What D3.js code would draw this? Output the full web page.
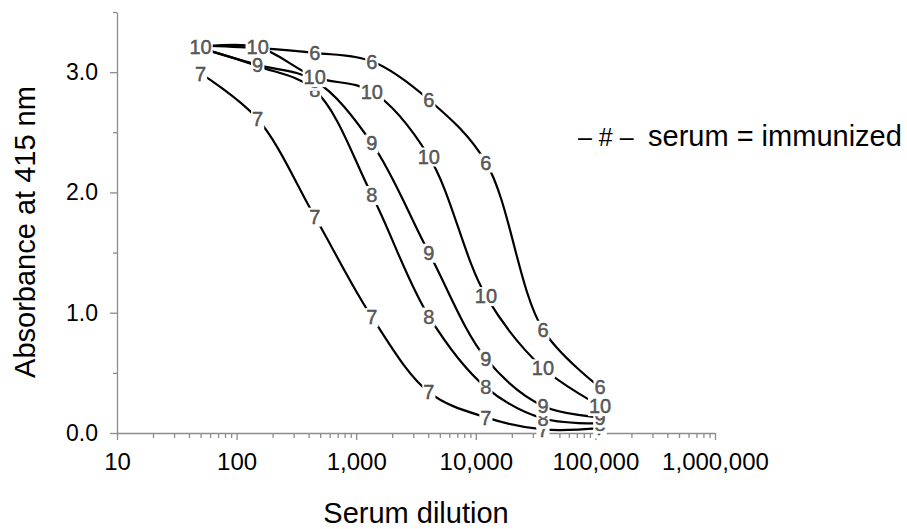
<!DOCTYPE html>
<html>
<head>
<meta charset="utf-8">
<script src="https://cdn.jsdelivr.net/npm/d3@7"></script>
<style>
	body { margin: 0; background: #fff; }
	text { font-family: "Liberation Sans", Arial, sans-serif; }
</style>
</head>
<body>
<div id="chart"></div>
<script>
// 3-fold serum dilutions
const dilutions = [50, 150, 450, 1350, 4050, 12150, 36450, 109350];

// absorbance at 415 nm, one array per serum (label = curve number)
const serum6 = [3.22, 3.2, 3.16, 3.09, 2.77, 2.25, 0.86, 0.38];
const serum7 = [2.99, 2.61, 1.8, 0.965, 0.34, 0.13, 0.03, 0.04];
const serum8 = [3.2, 3.05, 2.85, 1.98, 0.97, 0.38, 0.12, 0.08];
const serum9 = [3.2, 3.06, 2.93, 2.41, 1.5, 0.62, 0.225, 0.13];
const serum10 = [3.21, 3.21, 2.96, 2.84, 2.3, 1.14, 0.54, 0.225];

const seriesNames = ["6", "7", "8", "9", "10"];
const seriesValues = [serum6, serum7, serum8, serum9, serum10];

const yTicks = [0, 0.5, 1, 1.5, 2, 2.5, 3, 3.5];
const xDecades = [10, 100, 1000, 10000, 100000, 1000000];

const legendMark = "\u2013 # \u2013";
const legendText = "serum = immunized";
const xTitle = "Serum dilution";
const yTitle = "Absorbance at 415 nm";

const width = 907;
const height = 529;

const svg = d3
	.select("#chart")
	.append("svg")
	.attr("width", width)
	.attr("height", height);

const x = d3.scaleLog().domain([10, 1000000]).range([117, 715]);
const y = d3.scaleLinear().domain([0, 3.5]).range([433, 12]);

// x axis: minor ticks 2..9 in each decade
const xMinor = [];
xDecades.slice(0, -1).forEach((d) => {
	for (let k = 2; k <= 9; k++) xMinor.push(d * k);
});

const xAxis = svg
	.append("g")
	.attr("transform", `translate(0, ${y(0)})`)
	.call(
		d3
			.axisBottom(x)
			.tickValues(xDecades.concat(xMinor))
			.tickSize(5)
			.tickSizeOuter(0)
			.tickPadding(15)
			.tickFormat((d) => (xDecades.includes(d) ? d3.format(",")(d) : ""))
	);

xAxis.attr("font-family", null);
xAxis.select(".domain").attr("stroke", "#8c8c8c").attr("stroke-width", 1.3);
xAxis.selectAll(".tick line").attr("stroke", "#8c8c8c").attr("stroke-width", 1.3)
	.attr("y2", (d) => (xDecades.includes(d) ? 7 : 5));
xAxis.selectAll(".tick text").attr("font-size", 24).attr("fill", "#000");

const yAxis = svg
	.append("g")
	.attr("transform", `translate(${x(10)}, 0)`)
	.call(
		d3
			.axisLeft(y)
			.tickValues(yTicks)
			.tickSize(7)
			.tickSizeOuter(0)
			.tickPadding(12)
			.tickFormat((d) => (d % 1 === 0 ? d3.format(".1f")(d) : ""))
	);

yAxis.attr("font-family", null);
yAxis.select(".domain").attr("stroke", "#8c8c8c").attr("stroke-width", 1.3);
yAxis.selectAll(".tick line").attr("stroke", "#8c8c8c").attr("stroke-width", 1.3)
	.attr("x2", (d) => (d % 1 === 0 ? -7 : -4));
yAxis.selectAll(".tick text").attr("font-size", 23).attr("fill", "#000");

// smoothed curves, like the spreadsheet "smoothed line" option
const line = d3
	.line()
	.x((d) => x(d[0]))
	.y((d) => y(d[1]))
	.curve(d3.curveCatmullRom.alpha(0.5));

const series = seriesNames.map((name, i) => ({
	name: name,
	points: dilutions.map((dil, j) => [dil, seriesValues[i][j]]),
}));

svg.append("g")
	.selectAll("path")
	.data(series)
	.enter()
	.append("path")
	.attr("d", (d) => line(d.points))
	.attr("fill", "none")
	.attr("stroke", "#000")
	.attr("stroke-width", 2.2);

// number markers on the curves: each one gets a white box (cuts the
// lines and hides earlier markers below it), drawn series by series
const labelData = series.flatMap((s) => s.points.map((p) => ({ name: s.name, p: p })));

const marker = svg
	.append("g")
	.selectAll("g")
	.data(labelData)
	.enter()
	.append("g")
	.attr("transform", (d) => `translate(${x(d.p[0])}, ${y(d.p[1])})`);

marker
	.append("text")
	.attr("dy", "0.36em")
	.attr("text-anchor", "middle")
	.attr("font-size", 20)
	.attr("fill", "#606060")
	.attr("stroke", "#3a3a3a")
	.attr("stroke-width", 0.4)
	.text((d) => d.name);

marker.each(function () {
	const g = d3.select(this);
	const b = g.select("text").node().getBBox();
	g.insert("rect", "text")
		.attr("x", b.x - 1)
		.attr("y", b.y + 2)
		.attr("width", b.width + 2)
		.attr("height", b.height - 3)
		.attr("fill", "#fff");
});

// legend
const legend = svg.append("g").attr("transform", "translate(578, 146)");
legend
	.append("text")
	.attr("font-size", 25)
	.attr("fill", "#000")
	.text(legendMark);
legend
	.append("text")
	.attr("x", 70)
	.attr("font-size", 29)
	.attr("fill", "#000")
	.text(legendText);

// axis titles
svg.append("text")
	.attr("x", 416)
	.attr("y", 523)
	.attr("text-anchor", "middle")
	.attr("font-size", 29)
	.attr("fill", "#000")
	.text(xTitle);

svg.append("text")
	.attr("transform", "translate(35, 232) rotate(-90)")
	.attr("text-anchor", "middle")
	.attr("font-size", 29)
	.attr("fill", "#000")
	.text(yTitle);
</script>
</body>
</html>
